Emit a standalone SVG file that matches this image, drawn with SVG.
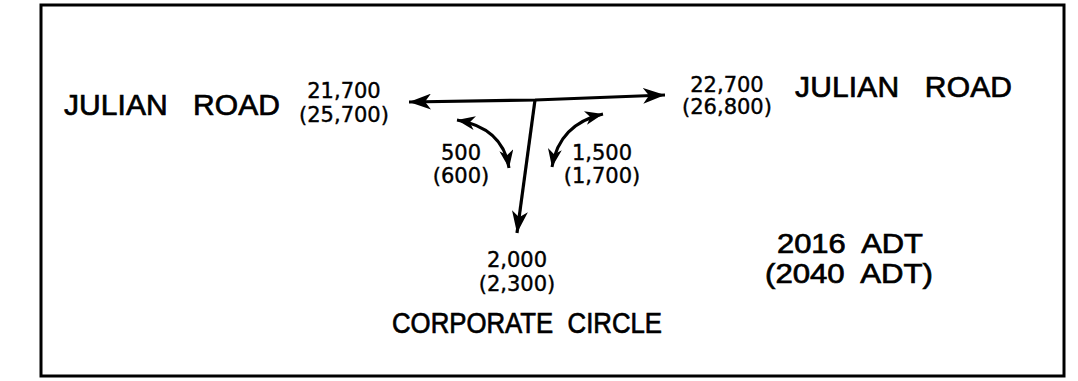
<svg xmlns="http://www.w3.org/2000/svg" width="1078" height="381" viewBox="0 0 1078 381">
<defs>
<style>
.lbl{font-family:"Liberation Sans",Arial,sans-serif;fill:#000;stroke:#000;stroke-width:0.7;white-space:pre}
.num{font-family:"DejaVu Sans","Liberation Sans",sans-serif;font-size:21px;fill:#000;stroke:#000;stroke-width:0.4;text-anchor:middle}
.ln{fill:none;stroke:#000;stroke-width:3.2}
.cv{fill:none;stroke:#000;stroke-width:3}
</style>
<marker id="ah" markerUnits="userSpaceOnUse" markerWidth="24" markerHeight="16" refX="22" refY="8" orient="auto-start-reverse">
<path d="M0,0 L22,8 L0,16 L6,8 Z" fill="#000"/>
</marker>
<marker id="ahs" markerUnits="userSpaceOnUse" markerWidth="20" markerHeight="14" refX="18" refY="7" orient="auto-start-reverse">
<path d="M0,0 L18,7 L0,14 L5,7 Z" fill="#000"/>
</marker>
</defs>
<rect x="41" y="5" width="1023" height="371" fill="#fff" stroke="#000" stroke-width="3"/>
<g id="connectors">
<polyline class="ln" points="409,102 535,100 665,95" marker-start="url(#ah)" marker-end="url(#ah)"/>
<line class="ln" x1="535" y1="100" x2="517" y2="233" marker-end="url(#ah)"/>
<path class="cv" d="M457,120 Q503,128 509,168" marker-start="url(#ahs)" marker-end="url(#ahs)"/>
<path class="cv" d="M603,114 Q559,124 552,167" marker-start="url(#ahs)" marker-end="url(#ahs)"/>
</g>
<g id="julian-west">
<text class="lbl" x="64" y="115" font-size="30" textLength="216">JULIAN   ROAD</text>
<text class="num" x="344" y="98">21,700</text>
<text class="num" x="344" y="122">(25,700)</text>
</g>
<g id="julian-east">
<text class="lbl" x="795" y="97" font-size="30" textLength="217">JULIAN   ROAD</text>
<text class="num" x="727" y="92">22,700</text>
<text class="num" x="727" y="114">(26,800)</text>
</g>
<g id="left-turn">
<text class="num" x="461" y="160">500</text>
<text class="num" x="461" y="183">(600)</text>
</g>
<g id="right-turn">
<text class="num" x="602" y="160">1,500</text>
<text class="num" x="602" y="183">(1,700)</text>
</g>
<g id="corporate-circle">
<text class="num" x="517" y="267">2,000</text>
<text class="num" x="517" y="291">(2,300)</text>
<text class="lbl" x="392" y="333" font-size="29" textLength="270" lengthAdjust="spacingAndGlyphs">CORPORATE  CIRCLE</text>
</g>
<g id="legend">
<text class="lbl" x="777" y="253" font-size="28" textLength="146" lengthAdjust="spacingAndGlyphs">2016  ADT</text>
<text class="lbl" x="765" y="283" font-size="28" textLength="168" lengthAdjust="spacingAndGlyphs">(2040  ADT)</text>
</g>
</svg>
